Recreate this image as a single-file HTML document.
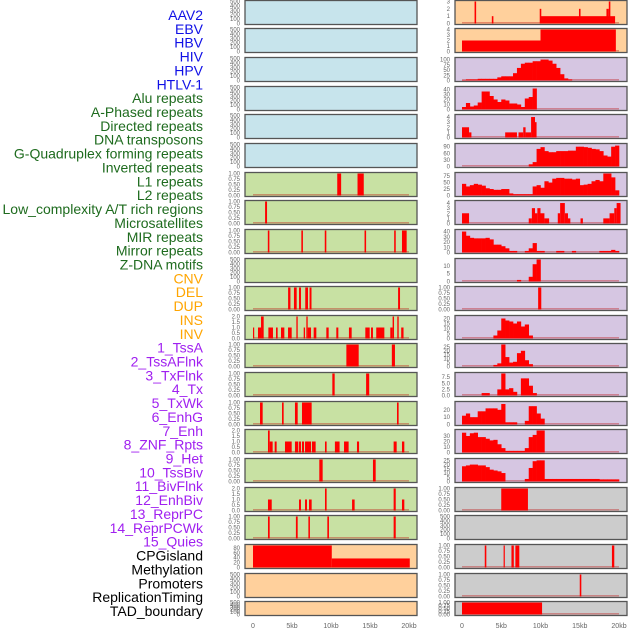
<!DOCTYPE html>
<html><head><meta charset="utf-8"><style>
html,body{margin:0;padding:0;background:#fff;}
svg{display:block;font-family:"Liberation Sans",sans-serif;}
</style></head><body>
<svg id="chart" width="630" height="630" viewBox="0 0 630 630"></svg>
<script>
// ---------- labels ----------
const labels = ["AAV2","EBV","HBV","HIV","HPV","HTLV-1","Alu repeats","A-Phased repeats","Directed repeats","DNA transposons","G-Quadruplex forming repeats","Inverted repeats","L1 repeats","L2 repeats","Low_complexity A/T rich regions","Microsatellites","MIR repeats","Mirror repeats","Z-DNA motifs","CNV","DEL","DUP","INS","INV","1_TssA","2_TssAFlnk","3_TxFlnk","4_Tx","5_TxWk","6_EnhG","7_Enh","8_ZNF_Rpts","9_Het","10_TssBiv","11_BivFlnk","12_EnhBiv","13_ReprPC","14_ReprPCWk","15_Quies","CPGisland","Methylation","Promoters","ReplicationTiming","TAD_boundary"];
const labelGroups = [6,13,5,15,5];
const groupColors = ["#1010e6","#1e6b1e","#ffa500","#a020f0","#000000"];
const xTicks = [0,5,10,15,20];
const xTickLabels = ["0","5kb","10kb","15kb","20kb"];

// ---------- column 1 (segments [startKb,endKb,value]) ----------
const c1r0=[],c1r1=[],c1r2=[],c1r3=[],c1r4=[],c1r5=[];
const c1r6=[[10.8,11.3,1],[13.4,14.2,1]];
const c1r7=[[1.55,1.8,1]];
const c1r8=[[1.9,2.1,1],[6.2,6.4,1],[9.2,9.4,1],[14.3,14.5,1],[18.1,18.3,1],[19.1,19.7,1]];
const c1r9=[];
const c1r10=[[4.5,4.8,1],[5.25,5.6,1],[5.9,6.15,1],[6.7,7.05,1],[7.25,7.5,1],[18.6,18.85,1]];
const c1r11=[[0,0.15,1],[0.64,1.03,1],[1.03,1.37,2],[1.97,2.56,1],[2.95,3.16,1],[3.59,4.02,1],[4.49,4.96,1],[5.56,5.73,2],[6.5,6.67,1],[6.84,7.01,2],[7.01,7.44,1],[7.78,8.12,1],[9.4,9.7,1],[10.68,10.94,1],[12.3,12.65,1],[14.4,14.96,1],[15.13,15.38,1],[15.8,16.84,1],[17.6,17.9,1],[17.9,18.08,2],[18.5,18.68,2],[19.0,19.3,1]];
const c1r12=[[11.97,13.55,1],[17.8,18.2,1]];
const c1r13=[[10.17,10.47,1],[14.5,14.9,1]];
const c1r14=[[0.9,1.24,1],[3.72,3.93,1],[5.38,5.73,1],[6.28,7.52,1],[18.46,18.67,1]];
const c1r15=[[1.92,2.14,2],[2.14,2.52,1],[2.78,3.03,1],[4.1,4.96,1],[5.38,5.81,1],[5.9,6.15,1],[6.28,6.54,1],[6.67,7.44,1],[7.56,8.03,1],[9.23,9.44,1],[10.5,11.1,1],[11.67,12.26,1],[13.33,13.6,1],[18.03,18.42,1],[19.1,19.4,1]];
const c1r16=[[8.5,8.93,1],[15.38,15.73,1]];
const c1r17=[[1.92,2.4,1],[5.9,6.15,1],[6.67,6.92,1],[7.18,7.52,1],[9.23,9.44,2],[12.7,13.03,1],[18.03,18.3,2],[19.1,19.4,1]];
const c1r18=[[1.92,2.14,1],[5.5,5.73,1],[7.1,7.3,1],[9.53,9.74,1],[18.03,18.3,1]];
const c1r19=[[0,10.1,90],[10.1,20.1,37]];
const c1r20=[],c1r21=[];

// ---------- column 2 ----------
const c2r0=[[0,10,0],[10,19.5,1],[1.6,1.8,3],[3.8,4.0,1],[9.9,10.1,2],[14.9,15.1,2],[18.4,18.7,2],[18.7,18.9,3]];
const c2r1=[[0,10,2],[10,19.6,4]];
const c2r2b=[2,5,5,5,8,8,8,8,8,15,20,20,20,35,60,80,85,85,92,92,100,100,95,80,60,30,10,5,0];
const c2r3b=[5,13,6,8,14,36,36,27,20,15,20,18,12,12,10,5,22,25,42];
const c2r4=[[0,0.9,2],[0.9,1.2,1],[5.5,7,1],[7.2,7.8,1],[7.8,8.1,2],[8.1,8.8,1],[8.8,9.3,4],[9.3,9.5,3]];
const c2r5b=[0,0,0,0,0,0,0,0,0,0,0,0,0,0,0,0,0,10,20,80,88,70,65,65,70,70,70,72,72,90,90,88,85,80,78,70,50,45,90,95];
const c2r6b=[45,35,40,45,42,38,28,25,22,22,25,25,8,5,5,5,5,5,35,40,30,55,50,65,68,68,65,65,62,65,40,42,45,55,60,55,85,85,70,20];
const c2r7=[[0,0.9,2],[8.5,8.9,1],[8.9,9.3,3],[9.3,9.6,2],[9.6,10,3],[10,10.5,2],[10.5,11.1,1],[12.2,12.5,2],[12.5,13.1,4],[13.1,13.5,2],[13.5,13.8,1],[15.1,15.4,1],[18,18.8,1],[18.8,19.4,2],[19.4,19.7,3],[19.7,20.2,4]];
const c2r8b=[40,32,28,27,27,27,28,25,15,15,12,8,3,3,0,0,3,8,18,3,3,0,0,0,3,3,0,0,3,0,0,0,0,0,0,3,3,3,5,3];
const c2r9b=[0,0,0,0,0,0,0,0,0,0,0,0,0,0,1,0,0,3,11,14];
const c2r10=[[9.7,10.1,1]];
const c2r11b=[0,0,0,0,0,0,0,0,3,8,20,18,17,15,17,12,14,3];
const c2r12b=[0,0,0,0,0,0,0,0,2,4,28,12,5,6,17,20,8,3];
const c2r13b=[0,0,0,0,0,1,1,0,0,2.5,9,2.5,3,1.5,0,7,7,4,1];
const c2r14b=[12,15,10,10,18,18,22,22,22,20,28,3,3,3,0,0,5,25,25,15,8];
const c2r15b=[36,30,35,36,28,28,25,22,23,15,8,3,3,3,3,3,8,28,32,40,40];
const c2r16b=[18,19,20,20,19,19,17,14,13,12,10,0,0,0,0,0,3,16,24,25,25,3,3,3,3,3,3,3,3,3,3,3,3,3,3,2.5,2.5,2.5,2.5,2.5];
const c2r17=[[5,8.4,1]];
const c2r18=[];
const c2r19=[[2.9,3.1,1],[5.3,5.45,1],[6.3,6.6,1],[6.8,7.3,1],[19.1,19.4,1]];
const c2r20=[[15.0,15.2,1]];
const c2r21=[[0,10.2,1]];

// ---------- y-axis tick labels ----------
const t500=["0","100","200","300","400","500"], t1=["0.00","0.25","0.50","0.75","1.00"], t2=["0.0","0.5","1.0","1.5","2.0"];
const col1Series=[c1r0,c1r1,c1r2,c1r3,c1r4,c1r5,c1r6,c1r7,c1r8,c1r9,c1r10,c1r11,c1r12,c1r13,c1r14,c1r15,c1r16,c1r17,c1r18,c1r19,c1r20,c1r21];
const col1Max=[500,500,500,500,500,500,1,1,1,500,1,2,1,1,1,2,1,2,1,90,500,500];
const col1Ticks=[t500,t500,t500,t500,t500,t500,t1,t1,t1,t500,t1,t2,t1,t1,t1,t2,t1,t2,t1,["0","20","40","60","80"],t500,t500];
const col2Series=[c2r0,c2r1,c2r2b,c2r3b,c2r4,c2r5b,c2r6b,c2r7,c2r8b,c2r9b,c2r10,c2r11b,c2r12b,c2r13b,c2r14b,c2r15b,c2r16b,c2r17,c2r18,c2r19,c2r20,c2r21];
const col2Max=[3,4,105,44,4.3,100,85,4.3,42,14,1,22,28,9,30,40,26,1,500,1,1,1];
const col2Ticks=[["0","1","2","3"],["0","1","2","3","4"],["0","25","50","75","100"],["0","10","20","30","40"],["0","1","2","3","4"],["0","30","60","90"],["0","25","50","75"],["0","1","2","3","4"],["0","10","20","30","40"],["0","5","10"],t1,["0","5","10","15","20"],["0","5","10","15","20","25"],["0.0","2.5","5.0","7.5"],["0","10","20"],["0","10","20","30"],["0","5","10","15","20","25"],t1,t500,t1,t1,t1];
const col1Bg=["#c7e4ec","#c7e4ec","#c7e4ec","#c7e4ec","#c7e4ec","#c7e4ec","#c8e1a3","#c8e1a3","#c8e1a3","#c8e1a3","#c8e1a3","#c8e1a3","#c8e1a3","#c8e1a3","#c8e1a3","#c8e1a3","#c8e1a3","#c8e1a3","#c8e1a3","#ffd09c","#ffd09c","#ffd09c"];
const col2Bg=["#ffd09c","#ffd09c","#d6c6e2","#d6c6e2","#d6c6e2","#d6c6e2","#d6c6e2","#d6c6e2","#d6c6e2","#d6c6e2","#d6c6e2","#d6c6e2","#d6c6e2","#d6c6e2","#d6c6e2","#d6c6e2","#d6c6e2","#cccccc","#cccccc","#cccccc","#cccccc","#cccccc"];

// ---------- drawing ----------
const NS="http://www.w3.org/2000/svg";
const svg=document.getElementById('chart');
function mk(tag,attrs,parent){const e=document.createElementNS(NS,tag);for(const k in attrs)e.setAttribute(k,attrs[k]);(parent||svg).appendChild(e);return e;}
const rowTops=[0,28,57,86,114,143,172,200,229,258,286,315,343,372,401,429,458,487,515,544,573,601];
function rowH(i){return i===21?15:25;}
const cols=[{x0:245,x1:417,z:253,s:7.8,series:col1Series,max:col1Max,ticks:col1Ticks,bg:col1Bg,name:'left'},
            {x0:455,x1:627,z:462,s:7.85,series:col2Series,max:col2Max,ticks:col2Ticks,bg:col2Bg,name:'right'}];

// labels
let li=0;
labelGroups.forEach((n,g)=>{for(let k=0;k<n;k++){const t=mk('text',{x:203,y:(20+li*13.86).toFixed(1),'text-anchor':'end','font-size':14,fill:groupColors[g]});


t.textContent=labels[li];li++;}});

cols.forEach(c=>{
  const xs=kb=>c.z+kb*c.s;
  for(let r=0;r<22;r++){
    const top=rowTops[r],h=rowH(r),bot=top+h-1.5,ph=h-3;
    const g=mk('g',{});
    
    
    mk('rect',{x:c.x0,y:top+0.5,width:c.x1-c.x0,height:h-1,fill:c.bg[r]},g);
    const ys=v=>bot-v/c.max[r]*ph;
    const data=c.series[r];
    if(data.length){
      mk('rect',{x:xs(0),y:bot-1.5,width:20*c.s,height:1.5,fill:'rgba(190,0,0,0.35)'},g);
      if(Array.isArray(data[0])){
        data.forEach(sg=>{if(sg[2]<=0)return;const y=ys(sg[2]);const b=mk('rect',{x:xs(sg[0]).toFixed(2),y:y.toFixed(2),width:Math.max(1.2,(sg[1]-sg[0])*c.s).toFixed(2),height:(bot-y).toFixed(2),fill:'#ff0000'},g);
          
          });
      } else {
        data.forEach((v,i)=>{if(v<=0)return;const y=ys(v);const b=mk('rect',{x:xs(i*0.5).toFixed(2),y:y.toFixed(2),width:(0.5*c.s+0.3).toFixed(2),height:(bot-y).toFixed(2),fill:'#ff0000'},g);
          
          });
      }
    }
    mk('rect',{x:c.x0,y:top+0.5,width:c.x1-c.x0,height:h-1,fill:'none',stroke:'#555','stroke-width':1.3},g);
    const tl=c.ticks[r];
    tl.forEach(lab=>{const v=parseFloat(lab);const t=mk('text',{x:c.x0-5,y:(ys(v)+2).toFixed(1),'text-anchor':'end','font-size':6,fill:'#666'},g);
      
      
      t.textContent=lab;});
  }
  xTicks.forEach((k,i)=>{const t=mk('text',{x:xs(k),y:628,'text-anchor':'middle','font-size':7,fill:'#666'});
    
    
    t.textContent=xTickLabels[i];});
});
</script>
</body></html>
